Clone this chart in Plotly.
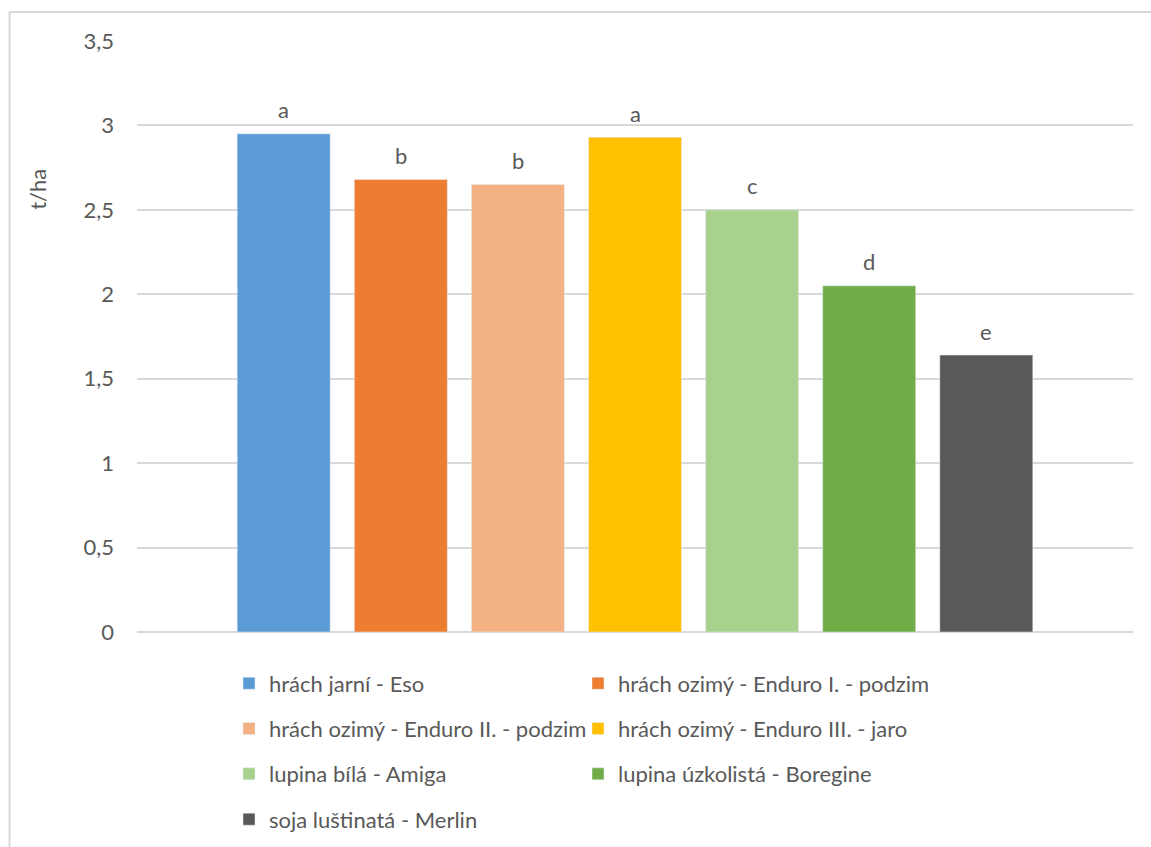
import plotly.graph_objects as go

series = [
    "hrách jarní - Eso",
    "hrách ozimý - Enduro I. - podzim",
    "hrách ozimý - Enduro II. - podzim",
    "hrách ozimý - Enduro III. - jaro",
    "lupina bílá - Amiga",
    "lupina úzkolistá - Boregine",
    "soja luštinatá - Merlin",
]
values = [2.95, 2.68, 2.65, 2.93, 2.50, 2.05, 1.64]
letters = ["a", "b", "b", "a", "c", "d", "e"]
colors = ["#5B9BD5", "#ED7D31", "#F4B183", "#FFC000", "#A9D18E", "#70AD47", "#595959"]
y_ticks = [0, 0.5, 1, 1.5, 2, 2.5, 3, 3.5]
y_ticktext = ["0", "0,5", "1", "1,5", "2", "2,5", "3", "3,5"]
y_title = "t/ha"

FONT = "Lato, 'Open Sans', sans-serif"
FS = 22
TXT = "#595959"

fig = go.Figure()
for i, (name, v, c) in enumerate(zip(series, values, colors)):
    fig.add_trace(go.Bar(
        x=[i], y=[v], name=name, marker_color=c, width=0.794,
        legend="legend" if i % 2 == 0 else "legend2",
        legendgroup=name,
        hoverinfo="skip",
    ))

W, H = 1151, 847
L, R, T, B = 137, 18, 41, 214.5
pw, ph = W - L - R, H - T - B

def px_x(p):
    return (p - L) / pw

def px_y(p):
    return (H - B - p) / ph

annotations = []
for i, (v, t) in enumerate(zip(values, letters)):
    annotations.append(dict(x=i, y=v, text=t, showarrow=False, yanchor="middle",
                            yshift=24, font=dict(family=FONT, size=FS, color=TXT)))
annotations.append(dict(xref="paper", yref="paper", x=px_x(38), y=px_y(190),
                        text=y_title, textangle=-90, showarrow=False,
                        xanchor="center", yanchor="middle",
                        font=dict(family=FONT, size=FS, color=TXT)))

shapes = [
    dict(type="line", xref="paper", yref="paper", x0=px_x(9.5), x1=px_x(W + 5),
         y0=px_y(12), y1=px_y(12), line=dict(color="#D9D9D9", width=2)),
    dict(type="line", xref="paper", yref="paper", x0=px_x(9.5), x1=px_x(9.5),
         y0=px_y(12), y1=px_y(H + 5), line=dict(color="#D9D9D9", width=2)),
]

legend_common = dict(
    orientation="v", bgcolor="rgba(0,0,0,0)", borderwidth=0,
    font=dict(family=FONT, size=FS, color=TXT),
    tracegroupgap=13.7, yanchor="top", xanchor="left",
)

fig.update_layout(
    width=W, height=H,
    margin=dict(l=L, r=R, t=T, b=B, autoexpand=False),
    paper_bgcolor="white", plot_bgcolor="white",
    font=dict(family=FONT, size=FS, color=TXT),
    showlegend=True,
    legend=dict(x=px_x(229), y=px_y(663), **legend_common),
    legend2=dict(x=px_x(578), y=px_y(663), **legend_common),
    annotations=annotations,
    shapes=shapes,
    xaxis=dict(range=[3 - 4.2527, 3 + 4.2527], showticklabels=False, showgrid=False,
               zeroline=False, showline=False, fixedrange=True),
    yaxis=dict(range=[0, 3.5], tickvals=y_ticks, ticktext=y_ticktext,
               showgrid=True, gridcolor="#D9D9D9", gridwidth=1.5,
               zeroline=True, zerolinecolor="#D9D9D9", zerolinewidth=1.5,
               showline=False, ticks="", ticklabelstandoff=22,
               tickfont=dict(family=FONT, size=FS, color=TXT),
               automargin=False),
)

fig.write_html("out.html")
